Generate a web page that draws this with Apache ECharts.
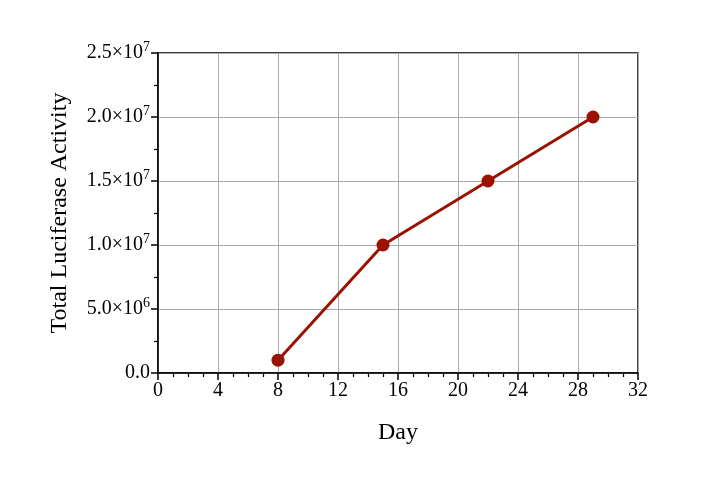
<!DOCTYPE html>
<html>
<head>
<meta charset="utf-8">
<script src="https://cdn.jsdelivr.net/npm/echarts@6/dist/echarts.min.js"></script>
<style>
  html, body { margin: 0; padding: 0; background: #fff; }
  #chart { width: 720px; height: 480px; }
</style>
</head>
<body>
<div id="chart"></div>
<script>
  // data
  const days = [8, 15, 22, 29]
  const activity = [1.0e6, 1.0e7, 1.5e7, 2.0e7]
  const xTicks = [0, 4, 8, 12, 16, 20, 24, 28, 32]
  const yTicks = [0, 5e6, 1e7, 1.5e7, 2e7, 2.5e7]

  const serif = 'Liberation Serif'

  function sciLabel(v) {
    if (v === 0) return '0.0'
    const e = Math.floor(Math.log10(v) + 1e-9)
    const m = (v / Math.pow(10, e)).toFixed(1)
    return m + '×10{sup|' + e + '}'
  }

  const chart = echarts.init(document.getElementById('chart'))
  chart.setOption({
    animation: false,
    grid: {
      left: 158, right: 82, top: 53, bottom: 107,
      show: true, borderColor: '#000', borderWidth: 1.5,
      backgroundColor: 'transparent'
    },
    xAxis: {
      type: 'value',
      min: xTicks[0], max: xTicks[xTicks.length - 1], interval: 4,
      name: 'Day', nameLocation: 'middle', nameGap: 48,
      nameTextStyle: { fontFamily: serif, fontSize: 24, color: '#000' },
      axisLine: { show: true, onZero: false, lineStyle: { color: '#000', width: 1.5 } },
      axisTick: { show: true, inside: false, length: 7, lineStyle: { color: '#000', width: 1.5 } },
      minorTick: { show: true, splitNumber: 4, length: 4, lineStyle: { color: '#000', width: 1.2 } },
      axisLabel: { fontFamily: serif, fontSize: 20, color: '#000', margin: 8 },
      splitLine: { show: true, lineStyle: { color: '#aaa', width: 1 } }
    },
    yAxis: {
      type: 'value',
      min: yTicks[0], max: yTicks[yTicks.length - 1], interval: 5e6,
      name: 'Total Luciferase Activity', nameLocation: 'middle', nameGap: 86,
      nameTextStyle: { fontFamily: serif, fontSize: 24, color: '#000' },
      axisLine: { show: true, onZero: false, lineStyle: { color: '#000', width: 1.5 } },
      axisTick: { show: true, inside: false, length: 7, lineStyle: { color: '#000', width: 1.5 } },
      minorTick: { show: true, splitNumber: 2, length: 4, lineStyle: { color: '#000', width: 1.2 } },
      axisLabel: {
        fontFamily: serif, fontSize: 20, color: '#000', margin: 8,
        formatter: sciLabel,
        rich: {
          sup: { fontFamily: serif, fontSize: 14, color: '#000', padding: [0, 0, 11, 0] }
        }
      },
      splitLine: { show: true, lineStyle: { color: '#aaa', width: 1 } }
    },
    series: [
      {
        type: 'line',
        data: days.map((d, i) => [d, activity[i]]),
        symbol: 'circle',
        symbolSize: 13,
        lineStyle: { color: '#9a1200', width: 3 },
        itemStyle: { color: '#9a1200' }
      }
    ]
  })
</script>
</body>
</html>
